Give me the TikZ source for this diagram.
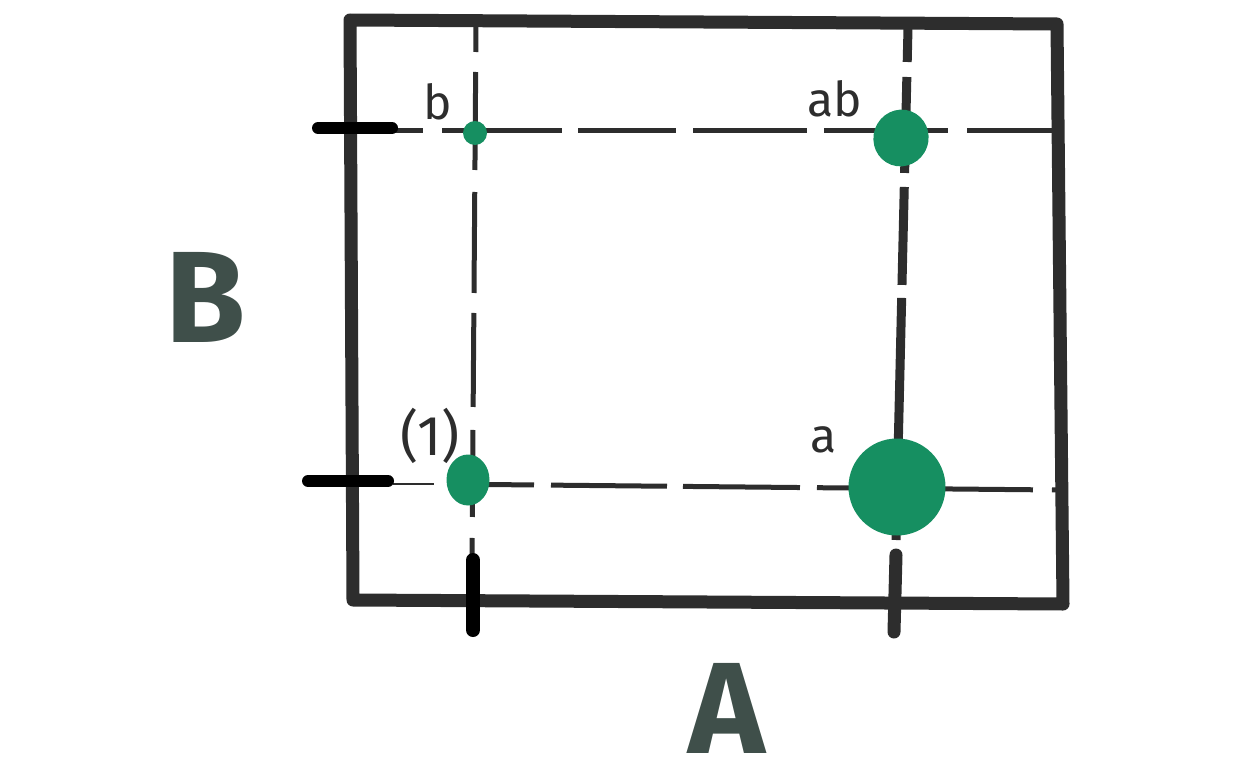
\documentclass[tikz,border=0pt]{standalone}
\usepackage{fontspec}
\setmainfont{Fira Sans}
\usetikzlibrary{calc,shapes.geometric}
\definecolor{frame}{HTML}{2D2D2D}
\definecolor{dotgreen}{HTML}{168F61}
\definecolor{axis}{HTML}{3F4F4A}
\begin{document}
\begin{tikzpicture}[x=1pt,y=-1pt,
  framebox/.style={draw=frame,line width=13pt,line join=round},
  guide/.style={draw=frame,line width=5pt},
  tick/.style={draw=black,line width=12pt,line cap=round},
  dot/.style={fill=dotgreen,draw=none,inner sep=0pt},
  lab/.style={font=\fontsize{48}{48}\selectfont,text=frame,inner sep=0pt,anchor=base},
  axislab/.style={font=\bfseries\fontsize{130}{130}\selectfont,text=axis,inner sep=0pt,anchor=base}]
\useasboundingbox (0,0) rectangle (1248,768);
% frame
\draw[framebox] (350,20) -- (1057,24) -- (1063,604) -- (353,600) -- cycle;
% grid coordinates
\coordinate (hbL) at (393,130); \coordinate (hbR) at (1052,130);
\coordinate (haL0) at (393,484); \coordinate (haL) at (434,484); \coordinate (haR) at (1057,490);
\coordinate (vlT) at (476,26);  \coordinate (vlB) at (472,560);
\coordinate (vrT) at (908,28);  \coordinate (vrB) at (896,540);
% dashed guides
\draw[guide,dash pattern=on 30pt off 19pt on 120pt off 16pt on 98pt off 17pt on 114pt off 17pt on 124pt off 19pt on 200pt off 10pt] (hbL) -- (hbR);
\draw[frame,line width=2.5pt] (haL0) -- (haL);
\draw[guide,dash pattern=on 0pt off 14pt on 86pt off 17pt on 116pt off 16pt on 117pt off 17pt on 216pt off 19pt on 30pt off 10pt] (haL) -- (haR);
\draw[guide,dash pattern=on 26pt off 20pt on 98pt off 22pt on 101pt off 20pt on 94pt off 23pt on 87pt off 21pt on 30pt off 10pt] (vlT) -- (vlB);
\draw[guide,line width=9pt,dash pattern=on 34pt off 15pt on 96pt off 14pt on 98pt off 13pt on 250pt off 8pt] (vrT) -- (vrB);
% ticks
\coordinate (tb1) at (318,128); \coordinate (tb2) at (392,128);
\coordinate (ta1) at (308,481); \coordinate (ta2) at (388,481);
\coordinate (t11) at (473,560); \coordinate (t12) at (473,630);
\coordinate (t21) at (896,555); \coordinate (t22) at (894,632);
\draw[tick] (tb1) -- (tb2);
\draw[tick] (ta1) -- (ta2);
\draw[tick,line width=14pt] (t11) -- (t12);
\draw[tick,draw=frame,line width=13pt] (t21) -- (t22);
% dots
\node[dot,circle,minimum size=24pt] (db) at (475,133) {};
\node[dot,ellipse,minimum width=55pt,minimum height=57pt,rotate=-20] (dab) at (901,138) {};
\node[dot,ellipse,minimum width=43pt,minimum height=51pt] (d1) at (468,480) {};
\node[dot,circle,minimum size=97pt] (da) at (897,487) {};
% labels
\node[lab] (lb) at (438,119) {b};
\node[lab] (lab) at (835,117) {ab};
\node[lab,font=\fontsize{56}{56}\selectfont] (l1) at (430,455) {(1)};
\node[lab] (la) at (824,452) {a};
\node[axislab] (B) at (206,342) {B};
\node[axislab] (A) at (727,753) {A};
\end{tikzpicture}
\end{document}
